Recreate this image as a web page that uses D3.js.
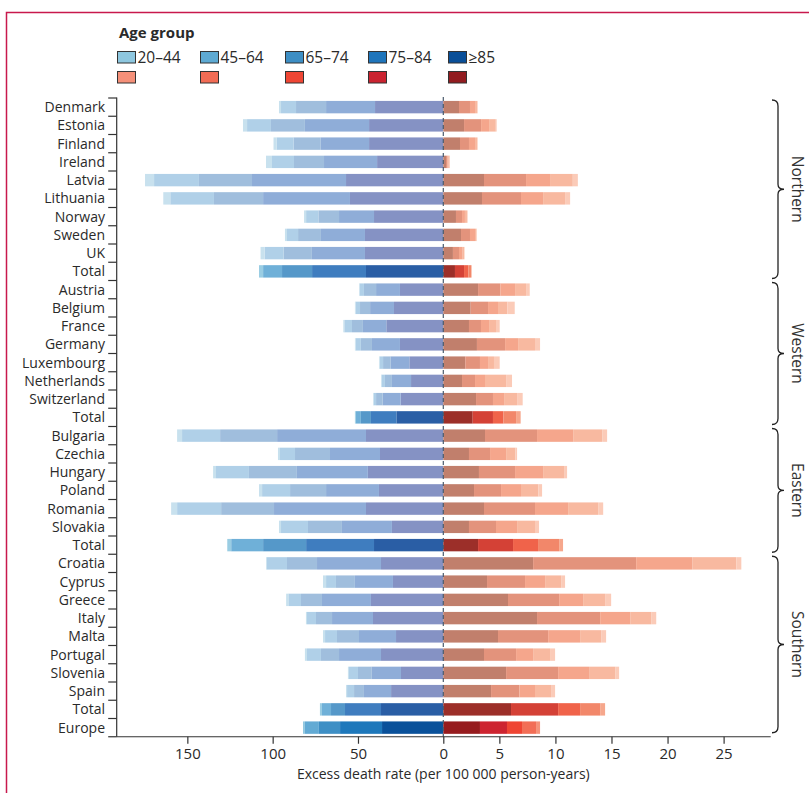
<!DOCTYPE html>
<html><head><meta charset="utf-8">
<script src="https://cdn.jsdelivr.net/npm/d3@7"></script>
<style>
html,body{margin:0;padding:0;background:#fff;}
svg{display:block;font-family:"Open Sans",sans-serif;}
</style></head>
<body>
<script>
// ---------- DATA ----------
const countries = ["Denmark","Estonia","Finland","Ireland","Latvia","Lithuania","Norway","Sweden","UK","Total",
  "Austria","Belgium","France","Germany","Luxembourg","Netherlands","Switzerland","Total",
  "Bulgaria","Czechia","Hungary","Poland","Romania","Slovakia","Total",
  "Croatia","Cyprus","Greece","Italy","Malta","Portugal","Slovenia","Spain","Total",
  "Europe"];
const rowKind = ["c","c","c","c","c","c","c","c","c","t",
  "c","c","c","c","c","c","c","t",
  "c","c","c","c","c","c","t",
  "c","c","c","c","c","c","c","c","t",
  "e"];
const ageGroups = ["20–44","45–64","65–74","75–84","≥85"];
const regions = ["Northern","Western","Eastern","Southern"];
const regionRows = [[0,9],[10,17],[18,24],[25,34]];
const leftTicks = [0,50,100,150];
const rightTicks = [0,5,10,15,20,25];
const axisTitle = "Excess death rate (per 100 000 person-years)";

// left side (blue) values per age group, one entry per row
const left_85   = [40.0,43.5,43.5,38.8,57.0,54.7,40.6,45.9,45.9,45.3, 25.4,28.9,33.4,25.4,19.9,18.9,25.0,27.5, 45.3,37.1,44.2,37.7,45.3,30.1,40.6, 36.5,29.5,42.4,41.2,27.7,36.5,24.8,30.6,36.5, 35.9];
const left_7584 = [28.7,37.6,28.3,31.1,55.1,50.9,20.5,25.8,31.1,31.6, 14.0,14.0,13.7,16.4,10.9,11.2,10.5,14.9, 52.1,29.3,41.6,31.0,53.9,29.3,39.8, 37.5,22.3,28.7,24.0,21.7,24.6,17.1,15.9,21.1, 24.6];
const left_6574 = [17.6,19.9,15.9,17.6,31.1,28.8,12.1,13.4,16.6,17.6, 7.1,5.9,6.4,6.5,4.5,4.1,3.9,5.9, 33.4,20.5,28.1,21.1,31.0,19.9,25.2, 17.6,11.1,12.3,9.4,12.9,10.6,8.1,5.8,8.2, 12.4];
const left_4564 = [8.8,14.0,10.0,12.9,26.3,25.6,7.2,6.5,11.1,11.1, 2.5,2.6,4.5,3.1,2.0,2.0,1.4,3.0, 22.3,8.8,19.3,16.4,25.8,15.8,18.7, 11.8,5.8,7.4,5.3,7.0,8.2,5.3,4.1,5.3, 8.2];
const left_2044 = [1.2,2.4,1.8,3.5,5.3,4.1,1.2,1.2,2.4,2.4, 0.4,0.4,0.6,0.4,0.4,0.3,0.4,0.5, 2.9,1.2,1.7,1.8,3.5,1.2,2.3, 0.5,1.8,1.3,0.6,1.2,1.2,0.6,0.6,1.2, 1.1];

// right side (red) values per age group
const right_85   = [1.40,1.85,1.49,0.24,3.63,3.45,1.13,1.58,0.86,1.04, 3.10,2.44,2.29,3.00,1.96,1.67,2.92,2.62, 3.72,2.29,3.18,2.74,3.63,2.29,3.10, 8.01,3.90,5.77,8.36,4.88,3.63,5.60,4.26,6.04, 3.27];
const right_7584 = [0.98,1.52,0.80,0.14,3.75,3.48,0.54,0.80,0.54,0.81, 1.99,1.55,1.07,2.51,1.31,1.16,1.51,1.81, 4.64,1.88,3.22,2.41,4.55,2.41,3.12, 9.19,3.39,4.56,5.63,4.47,2.86,4.64,2.53,4.20, 2.41];
const right_6574 = [0.45,0.71,0.54,0.10,2.14,1.97,0.26,0.45,0.33,0.38, 1.31,0.89,0.72,1.16,0.72,0.89,0.99,0.93, 3.22,1.43,2.50,1.78,2.95,1.88,2.23, 5.00,1.79,2.14,2.68,2.85,1.52,2.76,1.39,1.96, 1.34];
const right_4564 = [0.18,0.60,0.18,0.08,2.03,1.96,0.18,0.12,0.12,0.25, 0.98,0.83,0.62,1.51,0.53,1.88,1.16,1.13, 2.59,0.83,1.87,1.55,2.68,1.60,1.88, 3.93,1.43,1.96,1.87,1.88,1.51,2.33,1.43,1.79, 1.25];
const right_2044 = [0.06,0.08,0.06,0.03,0.45,0.45,0.06,0.05,0.05,0.05, 0.33,0.66,0.33,0.45,0.51,0.53,0.50,0.41, 0.44,0.15,0.27,0.33,0.45,0.36,0.35, 0.45,0.35,0.54,0.45,0.44,0.45,0.35,0.36,0.44, 0.36];

// ---------- STYLE ----------
const W = 809, H = 793;
// order of stacking from zero outward: ≥85, 75–84, 65–74, 45–64, 20–44
const leftSeries  = [left_85, left_7584, left_6574, left_4564, left_2044];
const rightSeries = [right_85, right_7584, right_6574, right_4564, right_2044];
const pal = {
  c: {L:["#8592c4","#8fadd8","#a0bedd","#b0d0e8","#c8e1ee"], R:["#c17f6c","#e3937c","#f5a68c","#f8b9a0","#fbcbb8"]},
  t: {L:["#2a5ea5","#3f7dbf","#5598c9","#6fb0d8","#9acde3"], R:["#9c2f29","#d44136","#f0634a","#f2876a","#f6a78c"]},
  e: {L:["#0a519a","#1e78bb","#3e8fc5","#62aad4","#8fc6df"], R:["#961b1e","#cd2430","#ef4533","#f26e56","#f5937a"]}
};
const legendBlue = ["#8ec7df","#5eaad3","#3d8ec4","#1f75bb","#0a4f98"];
const legendRed  = ["#f59079","#f26c55","#ef4634","#ca2330","#921c20"];

const svg = d3.select("body").append("svg").attr("width",W).attr("height",H);

// frame
svg.append("rect").attr("x",6.5).attr("y",12.5).attr("width",W+20).attr("height",H+20)
  .attr("fill","none").attr("stroke","#c8194d").attr("stroke-width",1.5);

const x0 = 443.3;
const xL = d3.scaleLinear().domain([0,191.4]).range([x0,116.7]);
const xR = d3.scaleLinear().domain([0,29.2]).range([x0,770.7]);
const y = d3.scaleBand().domain(d3.range(countries.length)).range([98,736.75]).paddingInner(0.32).paddingOuter(0.16);
const step = y.step();
const yTop = 98, yBot = 736.75;

// bars
const g = svg.append("g");
countries.forEach((c,i)=>{
  const k = rowKind[i];
  let cum = 0;
  leftSeries.forEach((s,j)=>{
    const a = cum, b = cum + s[i]; cum = b;
    g.append("rect").attr("x",xL(b)).attr("width",xL(a)-xL(b))
      .attr("y",y(i)).attr("height",y.bandwidth()).attr("fill",pal[k].L[j]);
  });
  cum = 0;
  rightSeries.forEach((s,j)=>{
    const a = cum, b = cum + s[i]; cum = b;
    g.append("rect").attr("x",xR(a)).attr("width",xR(b)-xR(a))
      .attr("y",y(i)).attr("height",y.bandwidth()).attr("fill",pal[k].R[j]);
  });
});

// zero dashed line
svg.append("line").attr("x1",x0).attr("x2",x0).attr("y1",yTop-1).attr("y2",yBot)
  .attr("stroke","#4a5a6c").attr("stroke-width",1.2).attr("stroke-dasharray","4,3");

// y axis
const yAxisX = 116.7;
svg.append("line").attr("x1",yAxisX).attr("x2",yAxisX).attr("y1",yTop-0.5).attr("y2",yBot)
  .attr("stroke","#333").attr("stroke-width",1.2);
d3.range(countries.length+1).forEach(i=>{
  const yy = yTop + i*step;
  svg.append("line").attr("x1",yAxisX-8.5).attr("x2",yAxisX).attr("y1",yy).attr("y2",yy)
    .attr("stroke","#333").attr("stroke-width",1.2);
});
svg.append("g").selectAll("text").data(countries).join("text")
  .attr("x",105).attr("y",(d,i)=>y(i)+y.bandwidth()/2).attr("dy","0.35em")
  .attr("text-anchor","end").attr("font-size",14).attr("fill","#2a2a2a").text(d=>d);

// x axis
svg.append("line").attr("x1",yAxisX).attr("x2",770.7).attr("y1",yBot).attr("y2",yBot)
  .attr("stroke","#333").attr("stroke-width",1.2);
const axL = svg.append("g").attr("transform",`translate(0,${yBot})`)
  .call(d3.axisBottom(xL).tickValues(leftTicks.filter(v=>v!==0)).tickSize(7).tickPadding(5));
const axR = svg.append("g").attr("transform",`translate(0,${yBot})`)
  .call(d3.axisBottom(xR).tickValues(rightTicks).tickSize(7).tickPadding(5));
[axL,axR].forEach(a=>{
  a.select(".domain").remove();
  a.selectAll("line").attr("stroke","#333").attr("stroke-width",1.2);
  a.selectAll("text").attr("font-size",15).attr("fill","#2a2a2a").attr("font-family","Open Sans, sans-serif");
});
svg.append("text").attr("x",x0).attr("y",779).attr("text-anchor","middle")
  .attr("font-size",14).attr("fill","#2a2a2a").text(axisTitle);

// region braces
regionRows.forEach(([a,b],ri)=>{
  const top = yTop + a*step + 2;
  const bot = (ri===3 ? yBot - 4 : yTop + (b+1)*step - 2);
  const mid = (top+bot)/2;
  const bx = 778, r = 5;
  const p = `M${bx-6},${top} Q${bx},${top} ${bx},${top+r+1} L${bx},${mid-r} Q${bx},${mid} ${bx+6},${mid} Q${bx},${mid} ${bx},${mid+r} L${bx},${bot-r-1} Q${bx},${bot} ${bx-6},${bot}`;
  svg.append("path").attr("d",p).attr("fill","none").attr("stroke","#222").attr("stroke-width",1.3);
  svg.append("text").attr("transform",`translate(792,${mid}) rotate(90)`)
    .attr("text-anchor","middle").attr("font-size",15.5).attr("fill","#333").text(regions[ri]);
});

// legend
svg.append("text").attr("x",119).attr("y",38).attr("font-size",15).attr("font-weight","bold")
  .attr("fill","#2a2a2a").text("Age group");
const lgX = [117,200,285,368,448];
ageGroups.forEach((a,i)=>{
  svg.append("rect").attr("x",lgX[i]+0.5).attr("y",51.5).attr("width",18).attr("height",11.5)
    .attr("fill",legendBlue[i]).attr("stroke","#333").attr("stroke-width",1);
  svg.append("rect").attr("x",lgX[i]+0.5).attr("y",71.5).attr("width",18).attr("height",11.5)
    .attr("fill",legendRed[i]).attr("stroke","#333").attr("stroke-width",1);
  svg.append("text").attr("x",lgX[i]+20.5).attr("y",63).attr("font-size",15.5).attr("fill","#2a2a2a").text(a);
});
</script>
</body></html>
